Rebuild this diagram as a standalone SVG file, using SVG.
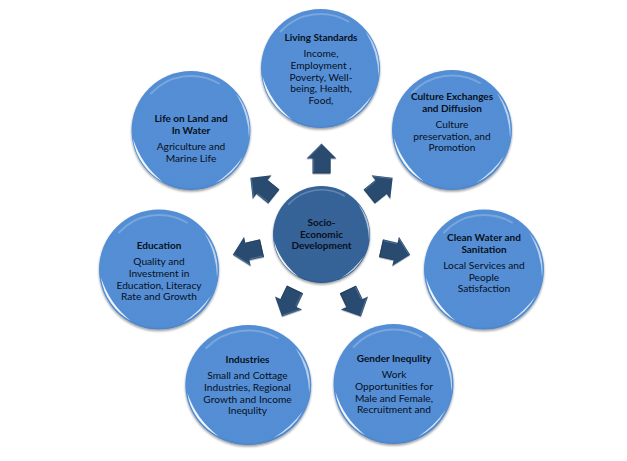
<svg xmlns="http://www.w3.org/2000/svg" xmlns:xlink="http://www.w3.org/1999/xlink" width="627" height="461" viewBox="0 0 627 461">
<style>
text{font-family:Lato,"Liberation Sans",sans-serif;font-size:10.2px;fill:#07101c;text-anchor:middle}
.b{font-weight:700;font-size:10px}
.lg{fill:url(#fillL)}
.dk{fill:url(#fillD)}
.shell{filter:url(#sh)}
.cres{fill:#fff}
.arrow{fill:#2a4b70;filter:url(#ash)}
.hi{fill:none;stroke:#6d8fb2;stroke-width:.9;stroke-linejoin:round;opacity:.55}
.lo{fill:none;stroke:#1d3653;stroke-width:.9;stroke-linejoin:round;opacity:.6}
</style>
<defs>
<radialGradient id="fillL" cx=".5" cy=".47" r=".53"><stop offset="0" stop-color="#558fd6"/><stop offset=".96" stop-color="#538dd4"/><stop offset="1" stop-color="#4a82c6"/></radialGradient>
<radialGradient id="fillD" cx=".5" cy=".47" r=".53"><stop offset="0" stop-color="#376499"/><stop offset=".96" stop-color="#366397"/><stop offset="1" stop-color="#2d5585"/></radialGradient>
<filter id="sh" x="-15%" y="-15%" width="130%" height="135%"><feDropShadow dx="0" dy="1.6" stdDeviation="1.3" flood-color="#000" flood-opacity=".4"/></filter>
<filter id="ash" x="-20%" y="-20%" width="140%" height="140%"><feDropShadow dx="0" dy="1" stdDeviation=".7" flood-color="#000" flood-opacity=".25"/></filter>
<g id="gloss">
<path class="cres" opacity=".92" d="M-58 8A58.5 58.5 0 0 0 -28 51.5A90 90 0 0 1 -58 8Z"/>
<path class="cres" opacity=".75" d="M52 26A58.5 58.5 0 0 1 24 53A100 100 0 0 0 52 26Z"/>
<path class="cres" opacity=".6" d="M45 -37A58.5 58.5 0 0 1 58 8A90 90 0 0 0 45 -37Z"/>
<path fill="none" stroke="#fff" stroke-width="2" opacity=".22" stroke-linecap="round" d="M-40 -37A55 55 0 0 1 28 -47"/>
</g>
<g id="arr">
<polygon points="-15,-76 0,-91 15,-76 9,-76 9,-61 -9,-61 -9,-76"/>
<polyline class="hi" points="-12.8,-76.9 0,-89.6"/>
<polyline class="hi" points="-7.8,-75.5 -7.8,-62"/>
<polyline class="lo" points="-8.5,-61.6 8.6,-61.6 8.6,-75.5"/>
</g>
</defs>
<g id="connectors">
<g class="arrow"><use xlink:href="#arr" href="#arr" transform="translate(321.5 234.5)"/></g>
<g class="arrow"><use xlink:href="#arr" href="#arr" transform="translate(321.5 234.5) rotate(51.4)"/></g>
<g class="arrow"><use xlink:href="#arr" href="#arr" transform="translate(321.5 234.5) rotate(102.9)"/></g>
<g class="arrow"><use xlink:href="#arr" href="#arr" transform="translate(321.5 234.5) rotate(154.3)"/></g>
<g class="arrow"><use xlink:href="#arr" href="#arr" transform="translate(321.5 234.5) rotate(205.7)"/></g>
<g class="arrow"><use xlink:href="#arr" href="#arr" transform="translate(321.5 234.5) rotate(257.1)"/></g>
<g class="arrow"><use xlink:href="#arr" href="#arr" transform="translate(321.5 234.5) rotate(308.6)"/></g>
</g>
<g id="node-center">
<circle class="dk shell" cx="321.5" cy="234.5" r="48.5"/>
<use href="#gloss" xlink:href="#gloss" transform="translate(321.5 234.5) scale(.82)"/>
<text class="b" x="321.5" y="225.5">Socio-</text>
<text class="b" x="321.5" y="237.5">Economic</text>
<text class="b" x="321.5" y="249">Development</text>
</g>
<g id="node-living">
<circle class="lg shell" cx="320.5" cy="68.5" r="59.5"/>
<use href="#gloss" xlink:href="#gloss" transform="translate(320.5 68.5)"/>
<text class="b" x="321" y="41">Living Standards</text>
<text x="321" y="57">Income,</text>
<text x="321" y="69">Employment ,</text>
<text x="321" y="81">Poverty, Well-</text>
<text x="321" y="92">being, Health,</text>
<text x="321" y="104">Food,</text>
</g>
<g id="node-culture">
<circle class="lg shell" cx="452" cy="130" r="60"/>
<use href="#gloss" xlink:href="#gloss" transform="translate(452 130)"/>
<text class="b" x="452" y="100">Culture Exchanges</text>
<text class="b" x="452" y="112">and Diffusion</text>
<text x="452" y="128">Culture</text>
<text x="452" y="140">preservation, and</text>
<text x="452" y="151">Promotion</text>
</g>
<g id="node-water">
<circle class="lg shell" cx="484" cy="269.5" r="60"/>
<use href="#gloss" xlink:href="#gloss" transform="translate(484 269.5)"/>
<text class="b" x="484" y="241">Clean Water and</text>
<text class="b" x="484" y="253">Sanitation</text>
<text x="484" y="269">Local Services and</text>
<text x="484" y="281">People</text>
<text x="484" y="292">Satisfaction</text>
</g>
<g id="node-gender">
<circle class="lg shell" cx="393.5" cy="384" r="60"/>
<use href="#gloss" xlink:href="#gloss" transform="translate(393.5 384)"/>
<text class="b" x="394" y="362">Gender Inequlity</text>
<text x="394" y="378">Work</text>
<text x="394" y="390">Opportunities for</text>
<text x="394" y="402">Male and Female,</text>
<text x="394" y="413">Recruitment and</text>
</g>
<g id="node-industries">
<ellipse class="lg shell" cx="248.3" cy="385" rx="63" ry="60"/>
<use href="#gloss" xlink:href="#gloss" transform="translate(248.3 385) scale(1.05 1)"/>
<text class="b" x="247.5" y="363">Industries</text>
<text x="247.5" y="379">Small and Cottage</text>
<text x="247.5" y="391">Industries, Regional</text>
<text x="247.5" y="403">Growth and Income</text>
<text x="247.5" y="414">Inequlity</text>
</g>
<g id="node-education">
<circle class="lg shell" cx="159" cy="269.5" r="60"/>
<use href="#gloss" xlink:href="#gloss" transform="translate(159 269.5)"/>
<text class="b" x="159" y="249">Education</text>
<text x="159" y="265">Quality and</text>
<text x="159" y="277">Investment in</text>
<text x="159" y="289">Education, Literacy</text>
<text x="159" y="300">Rate and Growth</text>
</g>
<g id="node-life">
<circle class="lg shell" cx="191" cy="130.5" r="59.5"/>
<use href="#gloss" xlink:href="#gloss" transform="translate(191 130.5)"/>
<text class="b" x="191" y="122">Life on Land and</text>
<text class="b" x="191" y="134">In Water</text>
<text x="191" y="150">Agriculture and</text>
<text x="191" y="162">Marine Life</text>
</g>
</svg>
